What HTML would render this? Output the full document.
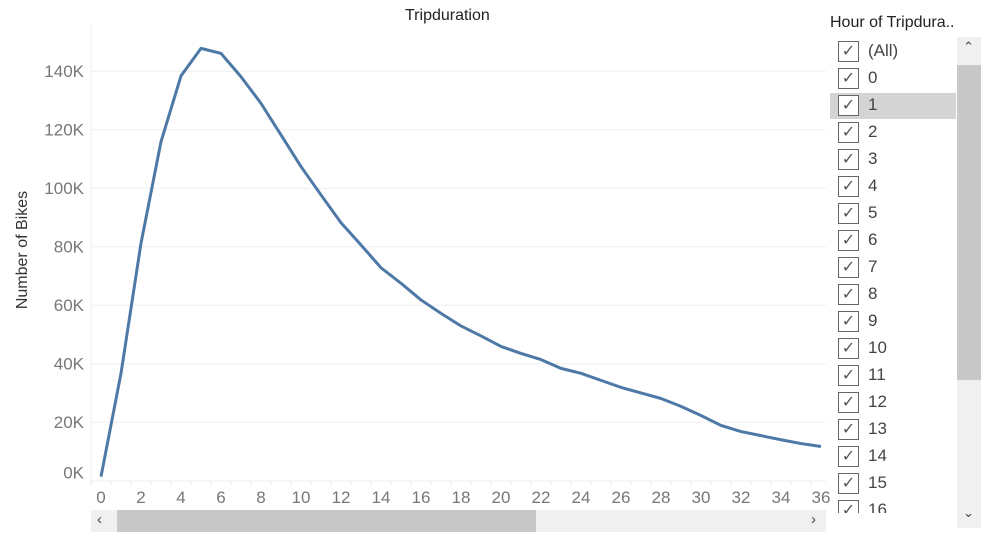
<!DOCTYPE html>
<html><head><meta charset="utf-8"><style>
body{margin:0;width:996px;height:543px;background:#fff;font-family:"Liberation Sans",sans-serif;overflow:hidden;position:relative}
.t{position:absolute;white-space:nowrap}
.row{position:absolute;left:830px;width:126px;height:26px}
.cb{position:absolute;left:8px;top:2px;width:21px;height:21px;border:1px solid #666;box-sizing:border-box;background:#fff;color:#555;font-size:16px;line-height:20px;text-align:center}
.lbl{position:absolute;left:38px;top:2px;font-size:17px;color:#444}
</style></head><body>
<div class="t" style="left:405px;top:7px;font-size:16px;color:#222">Tripduration</div>
<div class="t" style="left:-40px;top:241px;font-size:16px;color:#333;transform:rotate(-90deg);width:126px;text-align:center">Number of Bikes</div>
<svg id="chart" width="996" height="543" style="position:absolute;left:0;top:0"></svg>
<div style="position:absolute;left:91px;top:510px;width:735px;height:22px;background:#f0f0f0">
<div style="position:absolute;left:26px;top:0;width:419px;height:22px;background:#c8c8c8"></div>
<div class="t" style="left:6px;top:1px;font-size:15px;color:#444">&lsaquo;</div>
<div class="t" style="left:720px;top:1px;font-size:15px;color:#444">&rsaquo;</div>
</div>
<div class="t" style="left:830px;top:14px;font-size:16px;color:#222">Hour of Tripdura..</div>
<div id="list" style="position:absolute;left:0;top:0;width:956px;height:528px;overflow:hidden;clip-path:inset(37px 0 15px 0)"></div>
<div style="position:absolute;left:957px;top:37px;width:24px;height:491px;background:#f0f0f0">
<div style="position:absolute;left:0;top:28px;width:24px;height:315px;background:#c8c8c8"></div>
<div class="t" style="left:6px;top:2px;font-size:13px;color:#444">&#8963;</div>
<div class="t" style="left:6px;top:468px;font-size:13px;color:#444">&#8964;</div>
</div>
<script>
const hours=[0,1,2,3,4,5,6,7,8,9,10,11,12,13,14,15,16,17,18,19,20,21,22,23,24,25,26,27,28,29,30,31,32,33,34,35,36];
const bikes=[1.4,36.7,81.2,115.9,138.4,147.8,146.1,138.1,129,118.2,107.4,97.7,88.2,80.6,72.8,67.5,61.8,57.2,52.9,49.5,45.9,43.5,41.4,38.4,36.7,34.3,31.9,30,28.1,25.4,22.3,18.9,16.8,15.4,14,12.7,11.7];
const yTicks=[0,20,40,60,80,100,120,140];
const xTicks=[0,2,4,6,8,10,12,14,16,18,20,22,24,26,28,30,32,34,36];
const filterItems=["(All)","0","1","2","3","4","5","6","7","8","9","10","11","12","13","14","15","16","17"];
const NS="http://www.w3.org/2000/svg";
const svg=document.getElementById('chart');
const X=h=>101+20*h, Y=v=>480.7-2.925*v;
function mk(t,a){const e=document.createElementNS(NS,t);for(const k in a)e.setAttribute(k,a[k]);svg.appendChild(e);return e;}
mk('line',{x1:91,y1:24,x2:91,y2:481,stroke:'#eee'});
yTicks.forEach(v=>{
 if(v>0){const g=mk('line',{x1:91,x2:826,y1:Y(v),y2:Y(v),stroke:'#efefef'});
 
 }
 const t=mk('text',{x:84,y:(v===0?Y(v)-8:Y(v))+6,'text-anchor':'end','font-size':17,fill:'#777','font-family':'Liberation Sans,sans-serif'});
 t.textContent=v+'K';
 
 
});
mk('line',{x1:91,x2:826,y1:481,y2:481,stroke:'#eee'});
hours.forEach(h=>{mk('line',{x1:X(h)-10,x2:X(h)-10,y1:481,y2:485,stroke:'#e4e4e4'});});
xTicks.forEach(h=>{
 const t=mk('text',{x:X(h),y:503,'text-anchor':'middle','font-size':17,fill:'#777','font-family':'Liberation Sans,sans-serif'});
 t.textContent=h;
 
 
});
const cp=mk('clipPath',{id:'c'});const r=document.createElementNS(NS,'rect');r.setAttribute('x',91);r.setAttribute('y',0);r.setAttribute('width',735);r.setAttribute('height',490);cp.appendChild(r);
const p=mk('polyline',{points:hours.map((h,i)=>X(h)+','+Y(bikes[i])).join(' '),fill:'none',stroke:'#4e79a7','stroke-width':3,'stroke-linejoin':'round','clip-path':'url(#c)'});


const list=document.getElementById('list');
filterItems.forEach((s,i)=>{
 const d=document.createElement('div');d.className='row';d.style.top=(39+27*i)+'px';
 if(s==='1')d.style.background='#d4d4d4';
 
 
 d.innerHTML='<div class="cb">&#10003;</div><div class="lbl">'+s+'</div>';
 list.appendChild(d);
});
</script>
</body></html>
